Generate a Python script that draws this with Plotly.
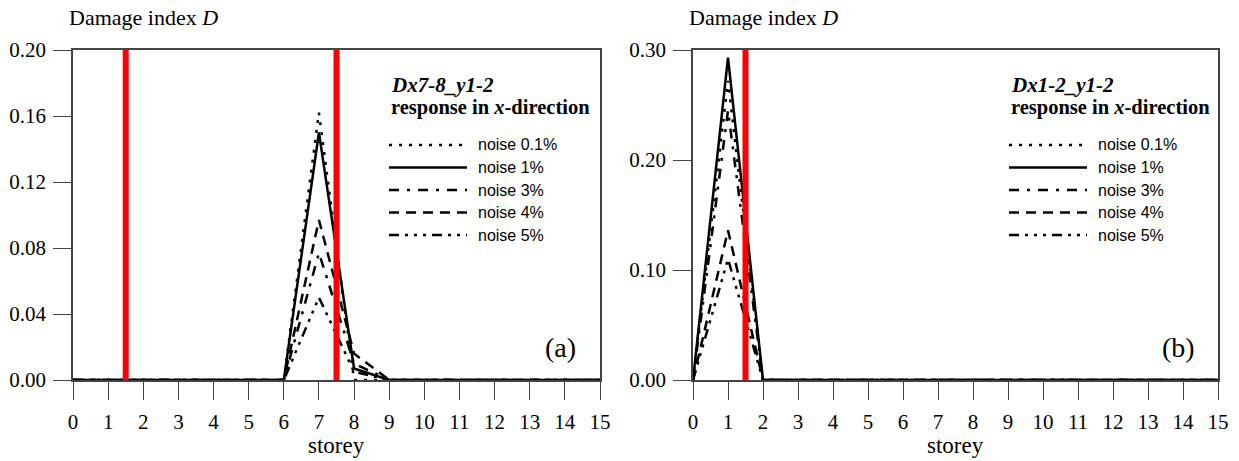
import plotly.graph_objects as go

W, H = 1239, 461

# ---------------- data ----------------
storeys = list(range(16))
xticks = list(range(16))
noise_labels = ["noise 0.1%", "noise 1%", "noise 3%", "noise 4%", "noise 5%"]

# panel (a): Dx7-8_y1-2
a_noise01 = [0, 0, 0, 0, 0, 0, 0, 0.162, 0.000, 0, 0, 0, 0, 0, 0, 0]
a_noise1 = [0, 0, 0, 0, 0, 0, 0, 0.150, 0.007, 0, 0, 0, 0, 0, 0, 0]
a_noise3 = [0, 0, 0, 0, 0, 0, 0, 0.077, 0.010, 0, 0, 0, 0, 0, 0, 0]
a_noise4 = [0, 0, 0, 0, 0, 0, 0, 0.097, 0.016, 0, 0, 0, 0, 0, 0, 0]
a_noise5 = [0, 0, 0, 0, 0, 0, 0, 0.050, 0.005, 0, 0, 0, 0, 0, 0, 0]
a_damage = [1.5, 7.5]
a_title = "Dx7-8_y1-2"
a_yticks = [0.00, 0.04, 0.08, 0.12, 0.16, 0.20]

# panel (b): Dx1-2_y1-2
b_noise01 = [0, 0.272, 0, 0, 0, 0, 0, 0, 0, 0, 0, 0, 0, 0, 0, 0]
b_noise1 = [0, 0.293, 0, 0, 0, 0, 0, 0, 0, 0, 0, 0, 0, 0, 0, 0]
b_noise3 = [0, 0.245, 0, 0, 0, 0, 0, 0, 0, 0, 0, 0, 0, 0, 0, 0]
b_noise4 = [0, 0.136, 0, 0, 0, 0, 0, 0, 0, 0, 0, 0, 0, 0, 0, 0]
b_noise5 = [0, 0.110, 0, 0, 0, 0, 0, 0, 0, 0, 0, 0, 0, 0, 0, 0]
b_damage = [1.5]
b_title = "Dx1-2_y1-2"
b_yticks = [0.00, 0.10, 0.20, 0.30]

# ---------------- styles ----------------
dashes = ["3px,7px", "solid", "10px,8px,3px,8px", "10px,7px", "10px,6px,3px,6px,3px,6px,3px,6px"]
SERIF = "Liberation Serif, Times New Roman, serif"
SANS = "Liberation Sans, Arial, sans-serif"
AXC = "#444444"


def px(x):
    return x / W


def py(y):
    return 1 - y / H


fig = go.Figure()

panels = [
    dict(series=[a_noise01, a_noise1, a_noise3, a_noise4, a_noise5], damage=a_damage,
         title=a_title, yticks=a_yticks, ymax=0.20, xa="x", ya="y", left=73, right=600, tag="(a)"),
    dict(series=[b_noise01, b_noise1, b_noise3, b_noise4, b_noise5], damage=b_damage,
         title=b_title, yticks=b_yticks, ymax=0.30, xa="x2", ya="y2", left=693, right=1218, tag="(b)"),
]

shapes = []
annotations = []
for p in panels:
    for vals, name, dash in zip(p["series"], noise_labels, dashes):
        fig.add_trace(go.Scatter(x=storeys, y=vals, mode="lines", name=name,
                                 line=dict(color="black", width=2.5, dash=dash),
                                 xaxis=p["xa"], yaxis=p["ya"], showlegend=False))
    for d in p["damage"]:
        fig.add_trace(go.Scatter(x=[d, d], y=[0, p["ymax"]], mode="lines",
                                 line=dict(color="#ff0000", width=6),
                                 xaxis=p["xa"], yaxis=p["ya"], showlegend=False,
                                 name="damage location"))
    L = p["left"]
    # custom legend block
    annotations.append(dict(text="<b><i>" + p["title"] + "</i></b>", x=px(L + 316), y=py(85),
                            xref="paper", yref="paper", xanchor="left", yanchor="middle",
                            showarrow=False, font=dict(family=SERIF, size=21, color="black")))
    annotations.append(dict(text="<b>response in <i>x</i>-direction</b>", x=px(L + 316), y=py(107),
                            xref="paper", yref="paper", xanchor="left", yanchor="middle",
                            showarrow=False, font=dict(family=SERIF, size=20.5, color="black")))
    for i, (name, dash) in enumerate(zip(noise_labels, dashes)):
        yy = 145 + 22.5 * i
        shapes.append(dict(type="line", xref="paper", yref="paper",
                           x0=px(L + 316), x1=px(L + 394), y0=py(yy), y1=py(yy),
                           line=dict(color="black", width=2.5, dash=dash)))
        annotations.append(dict(text=name, x=px(L + 403), y=py(yy), xref="paper", yref="paper",
                                xanchor="left", yanchor="middle", showarrow=False,
                                font=dict(family=SANS, size=16, color="black")))
    annotations.append(dict(text="Damage index <i>D</i>", x=px(L - 6), y=py(17),
                            xref="paper", yref="paper", xanchor="left", yanchor="middle",
                            showarrow=False, font=dict(family=SERIF, size=22, color="black")))
    annotations.append(dict(text="storey", x=px((L + p["right"]) / 2), y=py(445),
                            xref="paper", yref="paper", xanchor="center", yanchor="middle",
                            showarrow=False, font=dict(family=SERIF, size=23, color="black")))
    annotations.append(dict(text=p["tag"], x=px(p["right"] - 40), y=py(347),
                            xref="paper", yref="paper", xanchor="center", yanchor="middle",
                            showarrow=False, font=dict(family=SERIF, size=28, color="black")))

ydom = [py(380), py(50)]
common_x = dict(range=[0, 15], tickmode="array", tickvals=xticks, ticktext=[str(t) for t in xticks],
                ticks="outside", ticklen=18, tickwidth=1.3, tickcolor=AXC,
                showline=True, linecolor=AXC, linewidth=1.5, mirror=True,
                showgrid=False, zeroline=False, automargin=False, ticklabelstandoff=4,
                tickfont=dict(family=SERIF, size=21, color="black"))
common_y = dict(tickmode="array", ticks="outside", ticklen=18, tickwidth=1.3, tickcolor=AXC,
                showline=True, linecolor=AXC, linewidth=1.5, mirror=True,
                showgrid=False, zeroline=False, domain=ydom, automargin=False, ticklabelstandoff=3,
                tickfont=dict(family=SERIF, size=21, color="black"))

fig.update_layout(
    width=W, height=H,
    margin=dict(l=0, r=0, t=0, b=0, pad=0, autoexpand=False),
    paper_bgcolor="white", plot_bgcolor="white",
    showlegend=False,
    xaxis=dict(domain=[px(73), px(600)], anchor="y", **common_x),
    yaxis=dict(range=[0, 0.20], tickvals=a_yticks, ticktext=["%.2f" % v for v in a_yticks],
               anchor="x", **common_y),
    xaxis2=dict(domain=[px(693), px(1218)], anchor="y2", **common_x),
    yaxis2=dict(range=[0, 0.30], tickvals=b_yticks, ticktext=["%.2f" % v for v in b_yticks],
                anchor="x2", **common_y),
    shapes=shapes,
    annotations=annotations,
)

fig.write_html("out.html", config={"displayModeBar": False},
               post_script="document.body.style.margin='0';document.body.style.overflow='hidden';")
